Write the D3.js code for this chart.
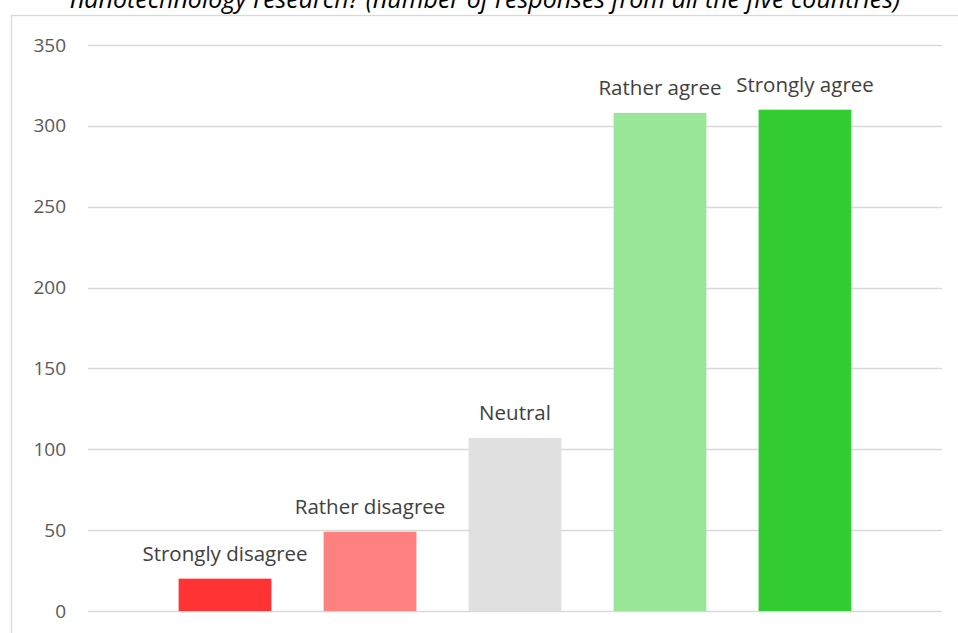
<!DOCTYPE html>
<html>
<head>
<meta charset="utf-8">
<script src="https://cdn.jsdelivr.net/npm/d3@7"></script>
<style>
  body { margin: 0; background: #fff; }
  svg { display: block; }
</style>
</head>
<body>
<script>
// responses chart
const w = 958;
const h = 633;

const categories = ['Strongly disagree', 'Rather disagree', 'Neutral', 'Rather agree', 'Strongly agree'];
const responses = [20, 49, 107, 308, 310];
const barColors = ['#ff3333', '#ff8080', '#e0e0e0', '#99e699', '#33cc33'];
const yTicks = [0, 50, 100, 150, 200, 250, 300, 350];

const titleText = 'nanotechnology research? (number of responses from all the five countries)';

const svg = d3.select('body').append('svg')
    .attr('width', w)
    .attr('height', h);

// chart frame
svg.append('rect')
    .attr('x', 11.5)
    .attr('y', 15.5)
    .attr('width', 960)
    .attr('height', 640)
    .attr('fill', 'none')
    .attr('stroke', '#d9d9d9')
    .attr('stroke-width', 1.3);

svg.append('text')
    .attr('x', 485)
    .attr('y', 8)
    .attr('text-anchor', 'middle')
    .attr('font-family', 'Open Sans, sans-serif')
    .attr('font-style', 'italic')
    .attr('font-size', '25px')
    .attr('fill', '#000')
    .text(titleText);

const x = d3.scaleBand()
    .domain(categories)
    .range([88, 942])
    .paddingInner(0.36)
    .paddingOuter(0.625);

const y = d3.scaleLinear()
    .domain([0, 350])
    .range([611, 45]);

// grid
svg.append('g')
    .selectAll('line')
    .data(yTicks)
    .enter()
    .append('line')
    .attr('x1', 88)
    .attr('x2', 942)
    .attr('y1', d => Math.round(y(d)) + 0.5)
    .attr('y2', d => Math.round(y(d)) + 0.5)
    .attr('stroke', '#d9d9d9')
    .attr('stroke-width', 1.3);

// y labels
const yAxis = svg.append('g')
    .attr('transform', 'translate(66,0)')
    .call(d3.axisLeft(y).tickValues(yTicks).tickSize(0).tickPadding(0));
yAxis.select('.domain').remove();
yAxis.selectAll('text')
    .attr('font-family', 'Open Sans, sans-serif')
    .attr('font-size', '19px')
    .attr('fill', '#595959');

// bars
svg.append('g')
    .selectAll('rect')
    .data(responses)
    .enter()
    .append('rect')
    .attr('x', (d, i) => x(categories[i]))
    .attr('y', d => y(d))
    .attr('width', x.bandwidth())
    .attr('height', d => y(0) - y(d))
    .attr('fill', (d, i) => barColors[i]);

// labels
svg.append('g')
    .selectAll('text')
    .data(responses)
    .enter()
    .append('text')
    .attr('x', (d, i) => x(categories[i]) + x.bandwidth() / 2)
    .attr('y', d => y(d) - 18)
    .attr('text-anchor', 'middle')
    .attr('font-family', 'Open Sans, sans-serif')
    .attr('font-size', '20.5px')
    .attr('fill', '#404040')
    .text((d, i) => categories[i]);
</script>
</body>
</html>
